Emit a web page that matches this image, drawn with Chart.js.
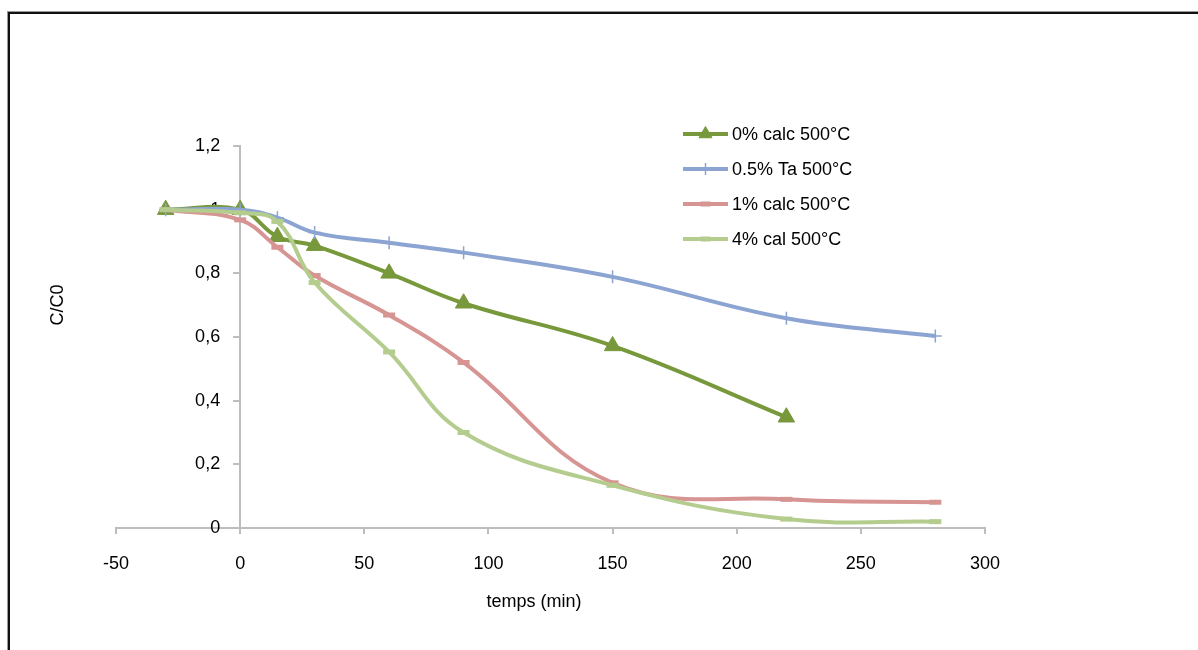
<!DOCTYPE html>
<html>
<head>
<meta charset="utf-8">
<script src="https://cdn.jsdelivr.net/npm/chart.js@4.4.1/dist/chart.umd.min.js"></script>
<style>
  html, body { margin: 0; padding: 0; background: #fff; overflow: hidden; }
  #wrap { position: relative; width: 1198px; height: 650px; }
  #frame {
    position: absolute; left: 8px; top: 12px; width: 1300px; height: 800px;
    border: 2px solid #111; box-shadow: -1px -1px 0 #999;
  }
  #box { position: absolute; left: 0; top: 0; width: 1198px; height: 650px; }
</style>
</head>
<body>
<div id="wrap">
  <div id="frame"></div>
  <div id="box"><canvas id="chart"></canvas></div>
</div>
<script>
/* global Chart */

// time in minutes
const timeA = [-30, 0, 15, 30, 60, 90, 150, 220];
const timeB = [-30, 0, 15, 30, 60, 90, 150, 220, 280];

// C/C0 per sample
const calc0 = [1.0, 1.0, 0.915, 0.887, 0.80, 0.706, 0.572, 0.348];
const ta05  = [1.0, 1.0, 0.975, 0.928, 0.896, 0.865, 0.789, 0.659, 0.603];
const calc1 = [1.0, 0.968, 0.882, 0.793, 0.669, 0.52, 0.142, 0.09, 0.081];
const cal4  = [1.0, 0.99, 0.963, 0.771, 0.553, 0.30, 0.134, 0.028, 0.02];

const seriesNames = ['0% calc 500°C', '0.5% Ta 500°C', '1% calc 500°C', '4% cal 500°C'];
const xTicks = [-50, 0, 50, 100, 150, 200, 250, 300];
const yTicks = [0, 0.2, 0.4, 0.6, 0.8, 1, 1.2];

const xTitle = 'temps (min)';
const yTitle = 'C/C0';

const FONT = "'Liberation Sans', Arial, sans-serif";
Chart.defaults.font.family = FONT;
Chart.defaults.font.size = 18;
Chart.defaults.color = '#000';

const AXIS = '#bdbdbd';

const pts = (xs, ys) => xs.map((x, i) => ({ x, y: ys[i] }));

const styles = [
  { color: '#77983B', pointStyle: 'triangle', radius: 9.5, pw: 1, legendR: 7.5 },
  { color: '#8CA4D1', pointStyle: 'cross', radius: 6.5, pw: 1.5, legendR: 6 },
  { color: '#D69492', pointStyle: 'line', radius: 6, pw: 5, legendR: 5 },
  { color: '#B4CD8E', pointStyle: 'line', radius: 6, pw: 5, legendR: 5 },
];
const seriesData = [pts(timeA, calc0), pts(timeB, ta05), pts(timeB, calc1), pts(timeB, cal4)];

// legend, axis titles and y tick marks, placed like the original Excel chart
const overlay = {
  id: 'overlay',
  beforeDatasetsDraw(chart) {
    // y tick marks sit on the axis at x = 0, pointing left
    const ctx = chart.ctx;
    const x0 = chart.scales.x.getPixelForValue(0);
    ctx.save();
    ctx.strokeStyle = AXIS;
    ctx.lineWidth = 2;
    yTicks.forEach(v => {
      const y = Math.round(chart.scales.y.getPixelForValue(v));
      ctx.beginPath();
      ctx.moveTo(x0 - 7, y);
      ctx.lineTo(x0, y);
      ctx.stroke();
    });
    ctx.restore();
  },
  afterDraw(chart) {
    const ctx = chart.ctx;
    ctx.save();
    ctx.font = '18px ' + FONT;
    ctx.textBaseline = 'middle';

    seriesNames.forEach((name, i) => {
      const st = styles[i];
      const y = 134 + i * 35;
      ctx.strokeStyle = st.color;
      ctx.lineWidth = 4;
      ctx.beginPath();
      ctx.moveTo(683, y);
      ctx.lineTo(728, y);
      ctx.stroke();
      ctx.fillStyle = st.color;
      ctx.lineWidth = st.pw;
      Chart.helpers.drawPoint(ctx, { pointStyle: st.pointStyle, radius: st.legendR, borderWidth: st.pw, rotation: 0 }, 705.5, y);
      ctx.fillStyle = '#000';
      ctx.textAlign = 'left';
      ctx.fillText(name, 732, y + 1);
    });

    ctx.fillStyle = '#000';
    ctx.textAlign = 'center';
    ctx.fillText(xTitle, 534, 602);
    ctx.translate(58, 305);
    ctx.rotate(-Math.PI / 2);
    ctx.fillText(yTitle, 0, 0);
    ctx.restore();
  }
};

new Chart(document.getElementById('chart'), {
  type: 'line',
  data: {
    datasets: seriesData.map((d, i) => ({
      label: seriesNames[i],
      data: d,
      borderColor: styles[i].color,
      backgroundColor: styles[i].color,
      borderWidth: 4,
      pointStyle: styles[i].pointStyle,
      pointRadius: styles[i].radius,
      pointBorderWidth: styles[i].pw,
      pointBorderColor: styles[i].color,
      pointBackgroundColor: styles[i].color,
      tension: 0.4,
      fill: false,
      order: 4 - i,
    })),
  },
  options: {
    responsive: true,
    maintainAspectRatio: false,
    animation: false,
    layout: { padding: { left: 116, right: 213, top: 146, bottom: 0 } },
    plugins: {
      legend: { display: false },
      tooltip: { enabled: false },
    },
    scales: {
      x: {
        type: 'linear',
        position: 'bottom',
        min: -50,
        max: 300,
        afterBuildTicks: s => { s.ticks = xTicks.map(v => ({ value: v })); },
        afterFit: s => { s.height = 122; },
        ticks: { padding: 19, maxRotation: 0, callback: v => String(v) },
        grid: { drawOnChartArea: false, drawTicks: true, tickLength: 6, color: AXIS, lineWidth: 2 },
        border: { display: true, color: AXIS, width: 2 },
      },
      y: {
        type: 'linear',
        position: { x: 0 },
        min: 0,
        max: 1.2,
        z: 1,
        afterBuildTicks: s => { s.ticks = yTicks.map(v => ({ value: v })); },
        ticks: {
          // labels on a centred axis ignore padding, so leave the gap with spaces
          callback: v => String(Math.round(v * 10) / 10).replace('.', ',') + '    ',
        },
        grid: { drawOnChartArea: false, drawTicks: false },
        border: { display: true, color: AXIS, width: 2 },
      },
    },
  },
  plugins: [overlay],
});
</script>
</body>
</html>
